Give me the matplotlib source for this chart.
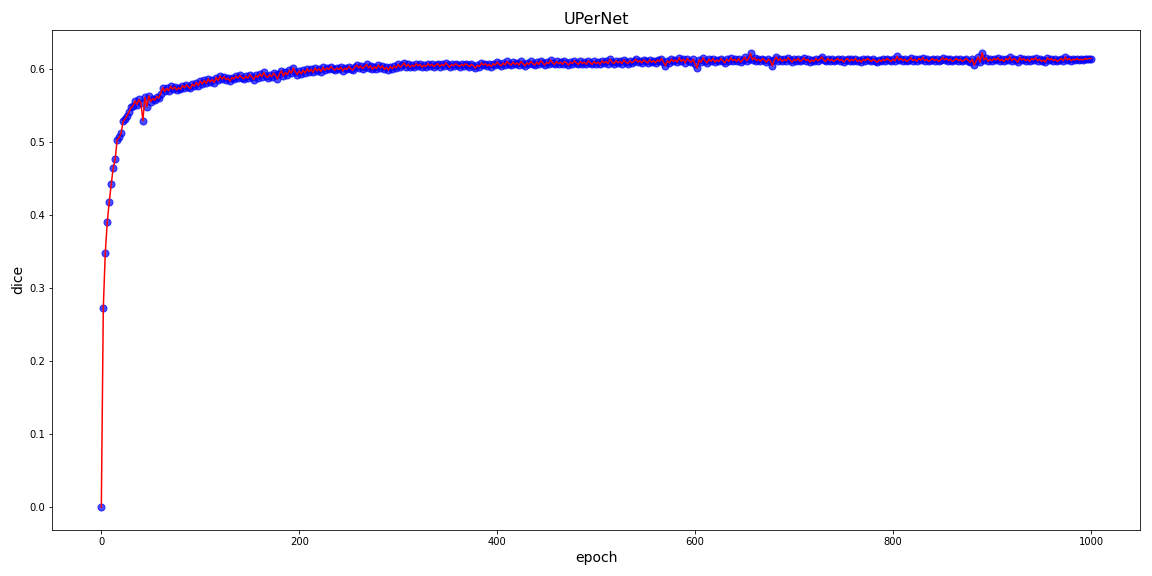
import numpy as np
import matplotlib
matplotlib.use("Agg")
import matplotlib.pyplot as plt

title = "UPerNet"
xlabel = "epoch"
ylabel = "dice"

dice = [
    0.000, 0.273, 0.348, 0.390, 0.418, 0.442, 0.464, 0.476, 0.503, 0.506,
    0.512, 0.528, 0.531, 0.536, 0.541, 0.547, 0.549, 0.556, 0.551, 0.558,
    0.553, 0.529, 0.561, 0.548, 0.563, 0.555, 0.559, 0.557, 0.562, 0.560,
    0.566, 0.574, 0.569, 0.573, 0.570, 0.576, 0.572, 0.575, 0.571, 0.574,
    0.572, 0.577, 0.574, 0.578, 0.575, 0.573, 0.579, 0.576, 0.581, 0.577,
    0.583, 0.579, 0.584, 0.580, 0.586, 0.582, 0.585, 0.581, 0.588, 0.584,
    0.590, 0.586, 0.589, 0.585, 0.587, 0.583, 0.588, 0.586, 0.590, 0.587,
    0.591, 0.588, 0.586, 0.590, 0.587, 0.592, 0.589, 0.585, 0.591, 0.588,
    0.593, 0.589, 0.595, 0.590, 0.588, 0.592, 0.589, 0.594, 0.591, 0.586,
    0.593, 0.597, 0.590, 0.595, 0.592, 0.598, 0.594, 0.601, 0.596, 0.592,
    0.597, 0.593, 0.598, 0.594, 0.600, 0.596, 0.599, 0.595, 0.601, 0.597,
    0.600, 0.596, 0.602, 0.598, 0.601, 0.599, 0.603, 0.600, 0.598, 0.601,
    0.599, 0.602, 0.597, 0.601, 0.599, 0.603, 0.600, 0.598, 0.602, 0.605,
    0.601, 0.604, 0.600, 0.603, 0.606, 0.601, 0.604, 0.599, 0.603, 0.600,
    0.605, 0.601, 0.604, 0.599, 0.602, 0.598, 0.603, 0.600, 0.604, 0.601,
    0.606, 0.602, 0.605, 0.608, 0.603, 0.606, 0.602, 0.605, 0.603, 0.607,
    0.604, 0.606, 0.602, 0.605, 0.603, 0.607, 0.604, 0.606, 0.603, 0.605,
    0.607, 0.603, 0.606, 0.604, 0.608, 0.605, 0.602, 0.606, 0.604, 0.607,
    0.605, 0.603, 0.606, 0.604, 0.607, 0.605, 0.603, 0.606, 0.604, 0.601,
    0.605, 0.603, 0.608, 0.605, 0.607, 0.604, 0.606, 0.603, 0.607, 0.605,
    0.609, 0.606, 0.604, 0.608, 0.605, 0.610, 0.607, 0.605, 0.609, 0.606,
    0.608, 0.605, 0.610, 0.607, 0.604, 0.608, 0.606, 0.610, 0.607, 0.605,
    0.609, 0.606, 0.611, 0.608, 0.605, 0.609, 0.607, 0.612, 0.608, 0.606,
    0.610, 0.607, 0.609, 0.606, 0.610, 0.608, 0.605, 0.609, 0.607, 0.611,
    0.608, 0.606, 0.610, 0.607, 0.609, 0.606, 0.611, 0.608, 0.606, 0.610,
    0.607, 0.609, 0.606, 0.611, 0.608, 0.610, 0.607, 0.613, 0.609, 0.607,
    0.611, 0.608, 0.610, 0.607, 0.612, 0.609, 0.607, 0.611, 0.608, 0.610,
    0.613, 0.609, 0.611, 0.608, 0.612, 0.610, 0.608, 0.612, 0.609, 0.611,
    0.608, 0.612, 0.610, 0.614, 0.609, 0.604, 0.611, 0.608, 0.613, 0.610,
    0.612, 0.609, 0.615, 0.610, 0.613, 0.608, 0.614, 0.611, 0.609, 0.613,
    0.606, 0.601, 0.612, 0.609, 0.615, 0.611, 0.608, 0.613, 0.610, 0.614,
    0.609, 0.612, 0.610, 0.614, 0.611, 0.608, 0.613, 0.610, 0.615, 0.611,
    0.613, 0.610, 0.614, 0.609, 0.612, 0.616, 0.611, 0.614, 0.621, 0.612,
    0.615, 0.611, 0.613, 0.610, 0.614, 0.612, 0.609, 0.613, 0.611, 0.604,
    0.612, 0.616, 0.611, 0.614, 0.610, 0.613, 0.611, 0.615, 0.612, 0.609,
    0.613, 0.611, 0.614, 0.610, 0.612, 0.615, 0.611, 0.613, 0.609, 0.612,
    0.610, 0.614, 0.611, 0.613, 0.616, 0.612, 0.610, 0.614, 0.611, 0.613,
    0.610, 0.612, 0.614, 0.611, 0.613, 0.609, 0.612, 0.614, 0.610, 0.613,
    0.611, 0.614, 0.610, 0.612, 0.609, 0.613, 0.611, 0.614, 0.612, 0.610,
    0.613, 0.611, 0.609, 0.612, 0.610, 0.613, 0.611, 0.614, 0.612, 0.610,
    0.613, 0.611, 0.617, 0.612, 0.614, 0.611, 0.613, 0.610, 0.612, 0.615,
    0.611, 0.613, 0.610, 0.614, 0.612, 0.615, 0.611, 0.613, 0.610, 0.612,
    0.614, 0.611, 0.613, 0.610, 0.612, 0.615, 0.612, 0.614, 0.611, 0.613,
    0.610, 0.612, 0.614, 0.611, 0.613, 0.610, 0.612, 0.614, 0.611, 0.609,
    0.613, 0.605, 0.611, 0.616, 0.609, 0.622, 0.612, 0.615, 0.610, 0.613,
    0.611, 0.614, 0.612, 0.615, 0.611, 0.613, 0.610, 0.614, 0.612, 0.616,
    0.611, 0.614, 0.612, 0.609, 0.615, 0.612, 0.614, 0.611, 0.613, 0.610,
    0.614, 0.612, 0.615, 0.611, 0.613, 0.610, 0.612, 0.609, 0.615, 0.612,
    0.614, 0.611, 0.613, 0.610, 0.612, 0.614, 0.611, 0.616, 0.612, 0.614,
    0.611, 0.613, 0.612, 0.614, 0.612, 0.613, 0.612, 0.614, 0.613, 0.614,
    0.614,
]
epochs = np.arange(len(dice)) * 2

fig = plt.figure(figsize=(16, 8), dpi=72)
ax = fig.add_subplot(111)
fig.subplots_adjust(left=0.045, right=0.990, top=0.948, bottom=0.080)

ax.scatter(epochs, dice, s=50, color="blue", alpha=0.7, zorder=2)
ax.plot(epochs, dice, color="red", linewidth=1.5, zorder=3)

ax.set_title(title, fontsize=16)
ax.set_xlabel(xlabel, fontsize=14)
ax.set_ylabel(ylabel, fontsize=14)
ax.tick_params(labelsize=10)

fig.savefig("out.png", dpi=72)
